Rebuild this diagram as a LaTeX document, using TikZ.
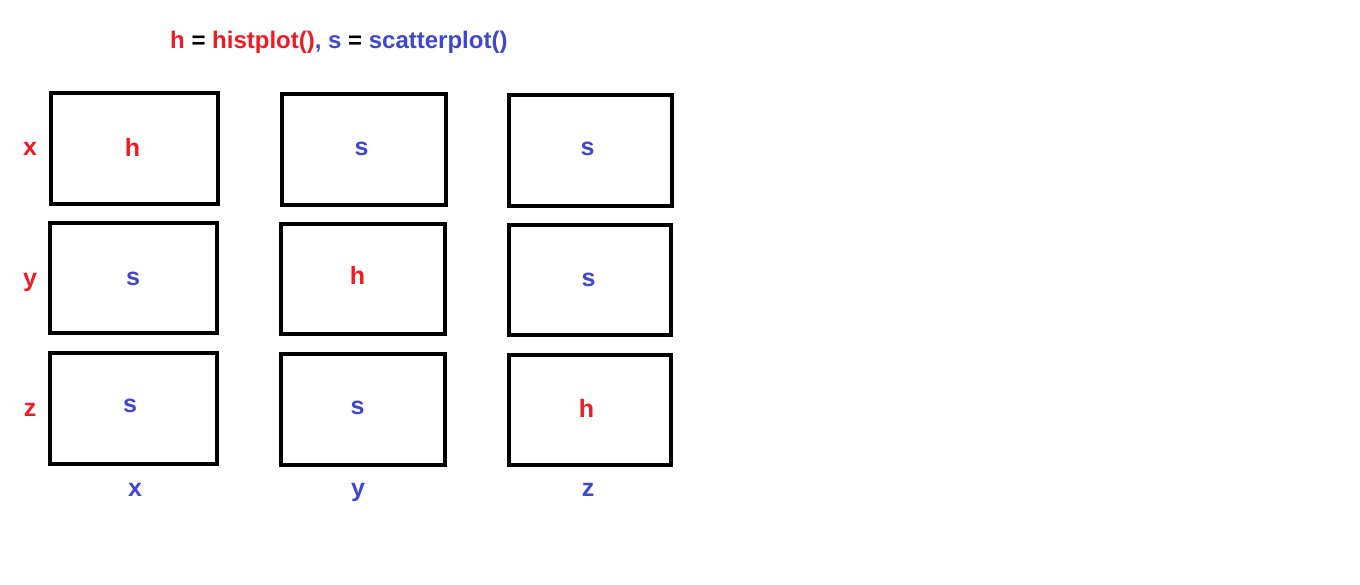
\documentclass[tikz,border=0pt]{standalone}
\usepackage{fontspec}
\setmainfont{Liberation Sans}
\definecolor{pred}{HTML}{ED1C24}
\definecolor{pblue}{HTML}{3F48CC}
\begin{document}
\begin{tikzpicture}[x=1pt,y=-1pt,
  box/.style={draw=black,line width=4pt,rectangle,inner sep=0pt},
  lab/.style={inner sep=0pt,anchor=base,font=\fontsize{25}{30}\selectfont\bfseries},
  hl/.style={lab,text=pred},
  sl/.style={lab,text=pblue}]
\useasboundingbox[fill=white] (0,0) rectangle (1360,584);
\node[inner sep=0pt,anchor=base west,font=\fontsize{24}{28}\selectfont\bfseries] (title) at (170,48) {\textcolor{pred}{h} = \textcolor{pred}{histplot()}\textcolor{pblue}{, s} = \textcolor{pblue}{scatterplot()}};
% boxes
\node[box,minimum width=167pt,minimum height=111pt] (b11) at (134.5,148.5) {};
\node[box,minimum width=164pt,minimum height=111pt] (b12) at (364,149.5) {};
\node[box,minimum width=163pt,minimum height=111pt] (b13) at (590.5,150.5) {};
\node[box,minimum width=167pt,minimum height=110pt] (b21) at (133.5,278) {};
\node[box,minimum width=164pt,minimum height=110pt] (b22) at (363,279) {};
\node[box,minimum width=162pt,minimum height=110pt] (b23) at (590,280) {};
\node[box,minimum width=167pt,minimum height=111pt] (b31) at (133.5,408.5) {};
\node[box,minimum width=164pt,minimum height=111pt] (b32) at (363,409.5) {};
\node[box,minimum width=162pt,minimum height=110pt] (b33) at (590,410) {};
% box labels
\node[hl] (t11) at (132.5,156) {h};
\node[sl] (t12) at (361.5,155) {s};
\node[sl] (t13) at (587.5,155.5) {s};
\node[sl] (t21) at (133,285) {s};
\node[hl] (t22) at (357.5,284) {h};
\node[sl] (t23) at (588.5,286) {s};
\node[sl] (t31) at (130,412) {s};
\node[sl] (t32) at (357.5,414) {s};
\node[hl] (t33) at (586.5,417) {h};
% row labels
\node[hl] (rx) at (30,155.5) {x};
\node[hl] (ry) at (30,286) {y};
\node[hl] (rz) at (30,416) {z};
% column labels
\node[sl] (cx) at (135,496) {x};
\node[sl] (cy) at (358,496) {y};
\node[sl] (cz) at (588,496) {z};
\end{tikzpicture}
\end{document}
